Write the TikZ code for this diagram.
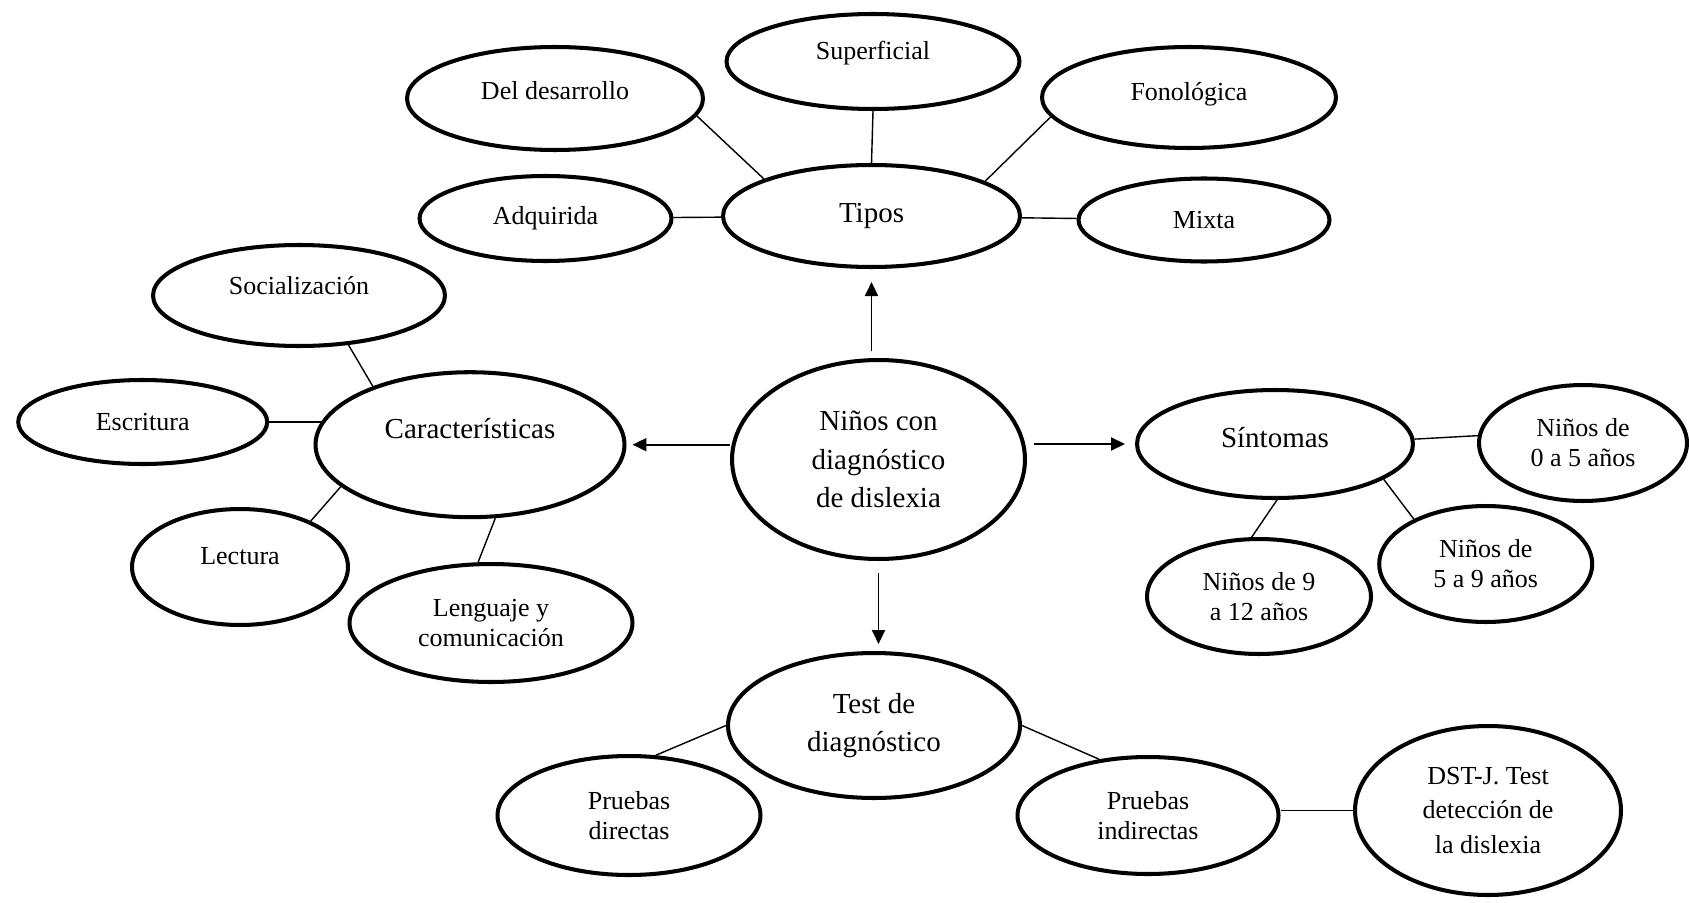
\documentclass[tikz,border=0pt]{standalone}
\usepackage{fontspec}
\setmainfont{Liberation Serif}
\usepackage{tikz}
\usetikzlibrary{positioning, shapes.geometric, arrows.meta, calc}

\tikzset{
  oval/.style={ellipse, draw, line width=2.3pt, inner sep=1pt, align=center},
  leaf/.style={oval, font=\fontsize{14.8}{17}\selectfont},
  hub/.style={oval, font=\fontsize{16.5}{21.9}\selectfont},
  dims/.style 2 args={minimum width=#1cm, minimum height=#2cm},
  lift/.style={text depth=#1cm},
  link/.style={line width=0.8pt},
  flow/.style={line width=1.1pt, -{Triangle[length=0.28cm, width=0.26cm]}}
}

\begin{document}
\begin{tikzpicture}[x=0.02cm, y=-0.02cm]
        \useasboundingbox (0,0) rectangle (1689,902);

        % Center node
        \node[hub, dims={5.86}{3.98}] (main) at (878.5,459.5) {Niños con\\diagnóstico\\de dislexia};

        % Tipos
        \node[hub, dims={5.94}{2.04}] (tipos) at (871.5,216) {Tipos};
        \node[leaf, dims={5.86}{1.90}, lift=0.44] (sup) at (873,61.5) {Superficial};
        \node[leaf, dims={5.92}{2.06}, lift=0.32] (del) at (555,98.5) {Del desarrollo};
        \node[leaf, dims={5.88}{2.02}, lift=0.24] (fon) at (1189,97.5) {Fonológica};
        \node[leaf, dims={5.04}{1.70}] (adq) at (545.5,218.5) {Adquirida};
        \node[leaf, dims={5.02}{1.66}] (mix) at (1204,220) {Mixta};

        % Caracteristicas
        \node[hub, dims={6.18}{2.90}, lift=0.64] (car) at (470,444.7) {Características};
        \node[leaf, dims={5.84}{2.02}, lift=0.40] (soc) at (299,295.5) {Socialización};
        \node[leaf, dims={4.98}{1.68}] (esc) at (142.7,422) {Escritura};
        \node[leaf, dims={4.32}{2.32}, lift=0.44] (lec) at (240,567) {Lectura};
        \node[leaf, dims={5.66}{2.36}] (len) at (491,623) {Lenguaje y\\comunicación};

        % Sintomas
        \node[hub, dims={5.52}{2.16}, lift=0.28] (sin) at (1275,444) {Síntomas};
        \node[leaf, dims={4.16}{2.32}] (n05) at (1583,443) {Niños de\\0 a 5 años};
        \node[leaf, dims={4.48}{2.30}] (n912) at (1259,596.5) {Niños de 9\\a 12 años};
        \node[leaf, dims={4.26}{2.32}] (n59) at (1485.7,564) {Niños de\\5 a 9 años};

        % Test
        \node[hub, dims={5.84}{2.90}] (test) at (874,725.5) {Test de\\diagnóstico};
        \node[leaf, dims={5.26}{2.38}] (pdir) at (629,815.5) {Pruebas\\directas};
        \node[leaf, dims={5.22}{2.34}] (pind) at (1148,815.5) {Pruebas\\indirectas};
        \node[leaf, dims={5.32}{3.38}, font=\fontsize{14.8}{19.4}\selectfont] (dst) at (1488,810.5) {DST-J. Test\\detección de\\la dislexia};

        % plain links
        \foreach \a/\b in {del.-7/tipos.161, sup.south/tipos.north, fon.188/tipos.17, adq/tipos, tipos/mix,
                           soc.-45/car.149, car.198/lec.33, car.-71/len.102,
                           sin.2/n05.176, sin.-88/n912.97, sin.-18/n59.148,
                           test.west/pdir.66, test.east/pind.131} {
          \draw[link] (\a) -- (\b);
        }
        \draw[link] (esc.east) -- (esc.east -| car.171);
        \draw[link] (dst.west -| pind.east) -- (dst.west);

        % arrows out of the center
        \draw[flow, shorten <=0.14cm, shorten >=0.26cm] (tipos.south |- main.north) -- (tipos.south);
        \draw[flow, shorten >=0.12cm] (car.east -| main.west) -- (car.east);
        \draw[flow, shorten <=0.13cm, shorten >=0.2cm] (sin.west -| main.east) -- (sin.west);
        \draw[flow, shorten <=0.24cm, shorten >=0.14cm] (main.south) -- (main.south |- test.north);
      \end{tikzpicture}
\end{document}
